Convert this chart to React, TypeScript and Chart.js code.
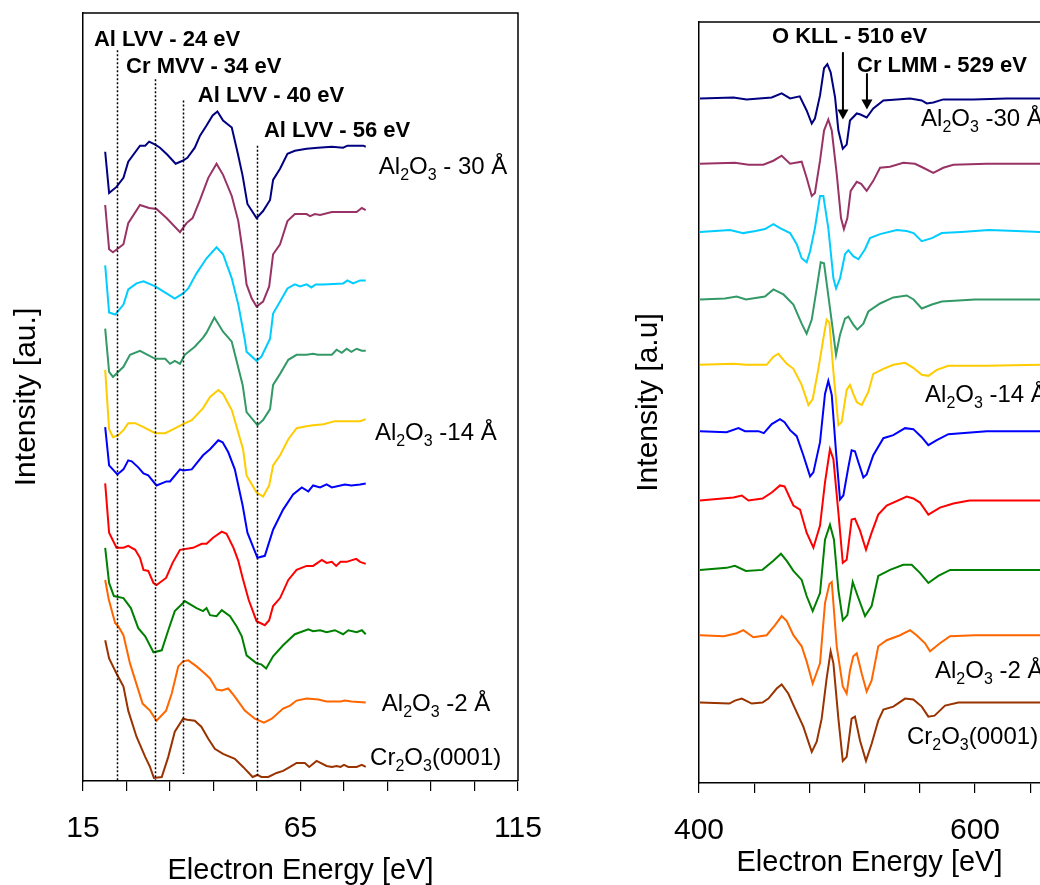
import React, { useEffect, useRef } from "react";
import { Chart, registerables } from "chart.js";

Chart.register(...registerables);

const FONT = "'Liberation Sans', Arial, Helvetica, sans-serif";

// ---------------- Left panel: low-energy region (eV, intensity a.u.) ----------------
const lowNavy = [[20.1,626],[21.0,585],[22.7,591],[24.3,600],[25.4,616],[28.1,632],[29.3,632],[30.2,636],[31.6,633],[32.7,630],[34.4,623],[36.3,614],[37.9,617],[39.0,620],[40.7,630],[41.9,642],[43.4,652],[44.8,662],[45.9,666],[47.2,657],[49.2,650],[50.6,624],[51.7,602],[52.8,574],[54.9,560],[56.4,567],[58.0,578],[58.7,598],[60.3,609],[62.0,624],[63.7,627],[66.4,629],[69.0,630],[72.2,631],[74.8,630],[75.8,632],[79.4,632],[80.0,631]];
const lowPurple = [[20.1,573],[21.0,529],[21.9,526],[24.3,534],[25.4,555],[28.1,573],[30.2,570],[31.9,569],[34.2,560],[37.3,546],[38.8,555],[40.2,560],[41.9,578],[43.8,600],[45.7,614],[47.2,603],[49.2,582],[50.7,557],[51.7,527],[52.6,494],[53.8,480],[54.9,472],[56.4,477],[57.8,492],[58.7,524],[60.3,534],[62.0,557],[63.7,564],[66.4,564],[67.2,562],[68.3,564],[69.5,563],[72.2,566],[77.9,566],[79.1,570],[80.0,568]];
const lowCyan = [[20.1,513],[21.0,466],[22.4,464],[24.3,474],[25.4,489],[27.3,495],[28.9,497],[31.6,492],[34.2,485],[36.1,480],[38.0,485],[39.2,490],[41.1,505],[43.4,520],[45.7,531],[47.2,524],[49.2,500],[50.7,474],[52.2,439],[52.6,427],[54.9,418],[56.0,422],[58.0,440],[58.7,465],[60.3,477],[62.0,490],[63.7,494],[64.9,492],[66.4,494],[67.5,491],[68.5,494],[70.3,494],[74.8,495],[75.8,498],[77.1,495],[78.7,498],[80.0,498]];
const lowSeaGreen = [[20.1,450],[21.0,407],[21.9,402],[24.3,412],[25.8,424],[28.1,428],[31.6,420],[33.9,420],[35.0,415],[36.1,418],[37.3,415],[38.4,424],[40.7,432],[42.6,441],[43.4,446],[45.2,461],[47.2,447],[49.2,437],[51.7,394],[52.6,367],[55.1,354],[56.4,359],[58.0,370],[58.7,394],[60.3,405],[62.2,419],[64.1,424],[66.4,424],[67.9,425],[69.0,424],[70.3,424],[72.2,424],[73.3,429],[74.5,426],[75.6,430],[76.7,427],[77.9,430],[79.1,428],[80.0,428]];
const lowGold = [[20.1,409],[21.0,350],[21.9,342],[23.1,344],[24.3,349],[25.4,356],[27.0,356],[28.9,352],[31.6,346],[33.9,346],[35.8,350],[38.0,355],[40.0,359],[41.1,364],[42.6,371],[44.2,382],[46.1,389],[47.2,385],[49.2,369],[51.8,330],[52.6,304],[54.9,287],[56.4,283],[57.8,294],[58.7,314],[60.3,324],[62.2,340],[64.1,351],[66.4,353],[67.9,354],[70.3,355],[72.9,358],[75.6,358],[78.7,358],[80.0,360]];
const lowBlue = [[20.1,352],[21.0,314],[22.9,305],[24.3,310],[25.4,319],[26.2,318],[27.7,312],[28.9,306],[30.0,304],[31.9,294],[34.2,298],[35.0,298],[37.3,310],[38.0,309],[40.0,310],[42.6,324],[44.2,330],[46.1,339],[47.1,337],[48.4,327],[49.9,310],[51.7,274],[52.8,247],[55.1,222],[56.8,224],[58.7,250],[61.0,270],[63.3,285],[65.3,292],[66.8,288],[67.9,294],[69.5,292],[71.0,295],[72.2,292],[75.2,295],[76.7,294],[78.7,295],[80.0,296]];
const lowRed = [[20.1,296],[21.0,247],[22.7,232],[24.3,232],[25.4,234],[27.0,230],[28.1,222],[28.9,210],[30.0,209],[31.2,197],[31.9,195],[34.1,202],[35.6,217],[37.3,230],[40.3,232],[42.3,236],[43.4,236],[44.9,242],[46.9,248],[48.0,246],[49.6,232],[50.7,219],[51.7,202],[53.1,180],[54.9,159],[56.8,155],[57.8,160],[58.7,174],[60.3,182],[62.2,200],[64.1,210],[66.4,214],[67.9,214],[69.9,220],[71.0,217],[72.2,218],[73.2,214],[74.2,218],[75.6,218],[77.8,221],[78.7,218],[80.0,216]];
const lowGreen = [[20.1,232],[21.0,197],[22.1,184],[24.3,182],[26.0,172],[27.7,152],[29.3,144],[31.2,128],[33.1,130],[34.6,150],[36.1,169],[38.0,177],[38.4,179],[41.1,172],[42.6,169],[43.4,172],[44.2,165],[45.7,164],[46.9,170],[48.8,164],[50.3,154],[51.5,144],[52.6,125],[54.9,117],[56.0,116],[57.1,112],[58.7,124],[61.0,135],[63.7,146],[66.8,151],[67.9,149],[69.5,150],[71.0,148],[72.9,150],[74.8,146],[76.0,150],[77.9,148],[79.1,150],[80.0,146]];
const lowOrange = [[20.1,200],[20.9,181],[21.9,165],[22.4,157],[23.1,154],[24.3,145],[25.8,117],[28.7,77],[30.4,70],[31.9,60],[34.1,70],[35.4,87],[36.9,114],[38.0,119],[39.2,120],[41.1,114],[43.0,107],[44.2,102],[45.7,91],[46.9,90],[48.4,92],[49.9,84],[52.2,70],[54.5,62],[56.6,58],[58.4,62],[61.0,72],[62.6,75],[64.1,80],[66.4,82],[69.1,81],[71.0,79],[74.2,79],[75.2,80],[76.7,79],[80.0,78]];
const lowBrown = [[20.1,140],[21.0,122],[22.7,107],[24.3,94],[25.4,70],[27.3,44],[29.3,24],[30.4,14],[31.3,3],[33.1,4],[34.6,24],[36.1,49],[38.0,62],[39.0,61],[40.7,60],[42.2,54],[43.8,42],[45.3,32],[47.2,27],[49.9,22],[51.8,14],[54.0,4],[55.1,6],[56.0,4],[57.6,4],[59.5,8],[61.0,10],[62.6,14],[64.1,18],[66.0,18],[67.0,14],[68.7,20],[71.0,15],[72.2,14],[73.3,15],[74.2,14],[75.0,16],[76.0,14],[77.9,14],[79.1,16],[80.0,14]];

// ---------------- Right panel: high-energy region ----------------
const highNavy = [[400.7,681],[425,682],[434.5,680],[452.7,682],[459.9,686],[466,681],[473,683],[478,669],[481.7,656],[484,661],[487.7,684],[490.6,711],[493,715],[495.4,707],[498.6,682],[501,649],[504.2,631],[507,635],[509.4,659],[514.3,666],[517,665],[521.5,662],[526.3,671],[533.6,679],[543.3,680],[553,681],[561.4,679],[565,676],[569.8,677],[577,680],[598.8,680],[623,681],[650,681]];
const highPurple = [[400.7,616],[426,617],[436,615],[446.6,615],[453.9,619],[459.9,624],[466,616],[474.4,618],[478,602],[481.7,584],[484,587],[487.7,619],[490.6,649],[493.7,660],[496.2,649],[499.8,606],[502.9,562],[505,551],[507.5,562],[509.9,589],[514.3,598],[517.5,596],[521.5,589],[526.3,599],[531.2,612],[538.4,613],[548,617],[556.5,616],[562.5,612],[569.8,607],[577,612],[584.3,615],[608.5,616],[650,616]];
const highCyan = [[400.7,548],[422.5,550],[432,547],[441,549],[447.8,551],[453.9,556],[458.7,552],[466,547],[470.8,536],[474.4,522],[478,518],[480.5,529],[484,552],[487.7,584],[490.1,584],[493.7,552],[497.4,502],[499.3,492],[502.2,502],[505.8,526],[508.2,530],[511.8,524],[515.5,521],[520.3,531],[523.9,542],[531.2,546],[543.3,550],[550.5,549],[555.5,547],[561.4,539],[568.8,542],[575.9,547],[590,548],[610,550],[630,549],[650,548]];
const highSeaGreen = [[400.7,481],[418.8,482],[427.3,484],[434,481],[447.8,484],[453.9,491],[461.2,486],[468.4,476],[474.4,457],[478,447],[481.7,461],[485.3,492],[488.2,518],[490.6,517],[493,492],[496.2,459],[499.3,426],[502.2,446],[505.8,462],[508.2,464],[511.8,456],[514.7,451],[519.1,457],[522.7,469],[531.2,477],[540.8,483],[550.5,485],[555.5,481],[561.4,472],[568.8,476],[575.9,479],[600,481],[650,481]];
const highGold = [[400.7,416],[425,417],[434,416],[449,416],[453.9,424],[457.5,427],[463.6,417],[468.4,412],[474.4,396],[479.3,376],[482.4,382],[486.5,412],[490.1,442],[492.5,461],[494.5,458],[497.4,409],[501,356],[503.4,359],[507,391],[509.4,396],[511.8,387],[514.3,379],[517.9,376],[522.7,389],[526.3,407],[533.6,412],[540.8,416],[549.3,418],[555.3,413],[561.4,406],[566.2,405],[572.3,411],[580.7,415],[608.5,415],[650,416]];
const highBlue = [[400.7,350],[420,349],[428.6,353],[433.3,350],[443,350],[447,348],[452.7,357],[458.7,362],[462,359],[466,351],[470.8,345],[475.6,326],[480.5,305],[482.9,309],[487.7,339],[491.3,387],[493.7,400],[496.2,386],[499.3,329],[502.2,282],[504.6,286],[508.2,314],[510.6,331],[513,330],[515.5,319],[519.1,304],[521.5,307],[526.3,326],[533.6,343],[540.8,346],[549.3,353],[555.3,352],[561.4,344],[566.2,336],[572.3,341],[580.7,347],[608.5,350],[650,350]];
const highRed = [[400.7,281],[425,284],[431,286],[435.8,281],[446,283],[452.7,289],[458.7,296],[462,295],[468.4,276],[473.2,272],[478,249],[482.9,234],[487.7,256],[491.3,299],[494.9,332],[497.4,322],[501,269],[504.2,219],[507,222],[510.6,262],[513,263],[516.7,251],[521,232],[525.1,249],[529.9,267],[536,276],[550.5,285],[555.3,283],[560.1,279],[566.2,267],[574.6,274],[584.3,278],[596,281],[650,281]];
const highGreen = [[400.7,212],[420,214],[426,216],[434,211],[446,212],[453.9,221],[459.4,228],[463.6,221],[468.4,211],[474.4,202],[478,186],[482.4,171],[487.7,189],[491.3,242],[494.9,257],[497.8,242],[501,192],[504.2,162],[507.5,167],[511.4,200],[514.7,187],[520.3,166],[525.1,176],[529.9,206],[538.4,212],[548,217],[554.1,217],[560.1,209],[566.2,199],[573.4,206],[582,212],[650,212]];
const highOrange = [[400.7,147],[418,146],[427.3,149],[432.1,152],[439.4,145],[449,147],[455.1,157],[459.9,166],[463.6,161],[468.4,147],[474.4,136],[478,121],[482.4,99],[487.7,119],[491.3,179],[494.5,198],[496.2,200],[499.8,136],[504.2,96],[507,89],[509.4,112],[511.8,126],[514.3,129],[517.9,109],[521.5,91],[525.1,102],[529.9,136],[536,142],[545.7,147],[552.9,152],[557.7,147],[563.8,139],[567.4,131],[574.6,139],[581.9,146],[600,147],[650,147]];
const highBrown = [[400.7,80],[422,79],[426,82],[431,84],[438.2,79],[446,80],[450.3,84],[456.3,94],[459.9,98],[464.7,89],[469.6,74],[475.6,56],[481.7,31],[485.3,41],[488.9,64],[492.5,104],[495.4,131],[497.4,119],[501,64],[504.2,22],[507,26],[510.6,64],[513,66],[516.7,42],[521,22],[525.1,39],[529.9,62],[533.6,73],[540.8,76],[549.3,84],[555.3,83],[561.4,76],[566.2,66],[570.7,67],[578.3,77],[588,80],[650,80]];

const seriesColors = ["#000080", "#993366", "#00CCFF", "#339966", "#FFCC00", "#0000FF", "#FF0000", "#008000", "#FF6600", "#993300"];
const lowSeries = [lowNavy, lowPurple, lowCyan, lowSeaGreen, lowGold, lowBlue, lowRed, lowGreen, lowOrange, lowBrown];
const highSeries = [highNavy, highPurple, highCyan, highSeaGreen, highGold, highBlue, highRed, highGreen, highOrange, highBrown];

// axis ticks
const lowTicks = [15, 25, 35, 45, 55, 65, 75, 85, 95, 105, 115];
const lowTickLabels = [15, 65, 115];
const highTicks = [400, 440, 480, 520, 560, 600, 640];
const highTickLabels = [400, 600];

// annotations: left panel dotted marker lines [energy, top, bottom]
const lowMarkerE = [22.8, 31.6, 37.9, 54.9];
const lowMarkerTop = [727, 698, 677, 632];
const lowMarkerBottom = [0, 1, 7, 5];
const lowPeakText = ["Al LVV - 24 eV", "Cr MVV - 34 eV", "Al LVV - 40 eV", "Al LVV - 56 eV"];
const lowPeakPos = [[17.5, 731], [24.9, 704], [41.4, 675], [56.6, 641]];
const lowSampleText = ["Al_2O_3 - 30 Å", "Al_2O_3 -14 Å", "Al_2O_3 -2 Å", "Cr_2O_3(0001)"];
const lowSamplePos = [[83.0, 604], [82.1, 339], [83.7, 70], [81.0, 16]];

const highPeakText = ["O KLL - 510 eV", "Cr LMM - 529 eV"];
const highPeakPos = [[452.9, 736], [514.5, 707]];
const highArrowE = [504.3, 521.7];
const highArrowFrom = [727, 706];
const highArrowTo = [660, 670];
const highSampleText = ["Al_2O_3 -30 Å", "Al_2O_3 -14 Å", "Al_2O_3 -2 Å", "Cr_2O_3(0001)"];
const highSamplePos = [[560.9, 654], [563.8, 379], [571.0, 104], [550.7, 39]];

function drawChem(ctx: CanvasRenderingContext2D, text: string, x: number, y: number, size: number) {
  const runs: { t: string; sub: boolean }[] = [];
  let buf = "";
  for (let i = 0; i < text.length; i++) {
    if (text[i] === "_") {
      if (buf) runs.push({ t: buf, sub: false });
      buf = "";
      runs.push({ t: text[i + 1], sub: true });
      i++;
    } else buf += text[i];
  }
  if (buf) runs.push({ t: buf, sub: false });
  let cx = x;
  ctx.textAlign = "left";
  ctx.textBaseline = "alphabetic";
  for (const r of runs) {
    const s = r.sub ? Math.round(size * 0.68) : size;
    ctx.font = `${s}px ${FONT}`;
    ctx.fillText(r.t, cx, r.sub ? y + size * 0.25 : y);
    cx += ctx.measureText(r.t).width;
  }
}

function makeLowDecor() {
  return {
    id: "lowDecor",
    afterDatasetsDraw(chart: any) {
      const { ctx, chartArea, scales } = chart;
      const x = scales.x, y = scales.y;
      ctx.save();
      ctx.strokeStyle = "#000";
      ctx.lineWidth = 1.5;
      ctx.beginPath();
      ctx.moveTo(chartArea.left, chartArea.top);
      ctx.lineTo(chartArea.right, chartArea.top);
      ctx.lineTo(chartArea.right, chartArea.bottom);
      ctx.stroke();
      ctx.setLineDash([2, 2]);
      ctx.lineWidth = 1.5;
      lowMarkerE.forEach((e, i) => {
        const px = Math.round(x.getPixelForValue(e)) + 0.5;
        ctx.beginPath();
        ctx.moveTo(px, y.getPixelForValue(lowMarkerTop[i]));
        ctx.lineTo(px, y.getPixelForValue(lowMarkerBottom[i]));
        ctx.stroke();
      });
      ctx.setLineDash([]);
      ctx.fillStyle = "#000";
      ctx.font = `bold 22px ${FONT}`;
      ctx.textAlign = "left";
      ctx.textBaseline = "alphabetic";
      lowPeakText.forEach((t, i) => {
        ctx.fillText(t, x.getPixelForValue(lowPeakPos[i][0]), y.getPixelForValue(lowPeakPos[i][1]));
      });
      lowSampleText.forEach((t, i) => {
        drawChem(ctx, t, x.getPixelForValue(lowSamplePos[i][0]), y.getPixelForValue(lowSamplePos[i][1]), 24);
      });
      ctx.restore();
    },
  };
}

function makeHighDecor() {
  return {
    id: "highDecor",
    afterDatasetsDraw(chart: any) {
      const { ctx, chartArea, scales } = chart;
      const x = scales.x, y = scales.y;
      ctx.save();
      ctx.strokeStyle = "#000";
      ctx.lineWidth = 1.5;
      ctx.beginPath();
      ctx.moveTo(chartArea.left, chartArea.top);
      ctx.lineTo(chart.width, chartArea.top);
      ctx.stroke();
      ctx.fillStyle = "#000";
      ctx.font = `bold 22px ${FONT}`;
      ctx.textAlign = "left";
      ctx.textBaseline = "alphabetic";
      highPeakText.forEach((t, i) => {
        ctx.fillText(t, x.getPixelForValue(highPeakPos[i][0]), y.getPixelForValue(highPeakPos[i][1]));
      });
      ctx.lineWidth = 2;
      highArrowE.forEach((e, i) => {
        const px = x.getPixelForValue(e);
        const y1 = y.getPixelForValue(highArrowFrom[i]);
        const y2 = y.getPixelForValue(highArrowTo[i]);
        ctx.beginPath();
        ctx.moveTo(px, y1);
        ctx.lineTo(px, y2 - 8);
        ctx.stroke();
        ctx.beginPath();
        ctx.moveTo(px - 5.5, y2 - 10);
        ctx.lineTo(px + 5.5, y2 - 10);
        ctx.lineTo(px, y2);
        ctx.closePath();
        ctx.fill();
      });
      highSampleText.forEach((t, i) => {
        drawChem(ctx, t, x.getPixelForValue(highSamplePos[i][0]), y.getPixelForValue(highSamplePos[i][1]), 24);
      });
      ctx.restore();
    },
  };
}

function buildConfig(opts: {
  series: number[][][];
  xMin: number; xMax: number; yMax: number;
  ticks: number[]; tickLabels: number[];
  tickPad: number;
  yTitle: string; yTitlePad: { top: number; bottom: number };
  xTitlePad: { top: number; bottom: number };
  padding: { left: number; right: number; top: number; bottom: number };
  lineWidth: number;
  plugin: any;
}): any {
  return {
    type: "line",
    data: {
      datasets: opts.series.map((s, i) => ({
        data: s.map((p) => ({ x: p[0], y: p[1] })),
        borderColor: seriesColors[i],
        backgroundColor: seriesColors[i],
        borderWidth: opts.lineWidth,
        pointRadius: 0,
        tension: 0,
        fill: false,
      })),
    },
    options: {
      responsive: false,
      animation: false,
      events: [],
      layout: { padding: opts.padding },
      plugins: { legend: { display: false }, tooltip: { enabled: false }, title: { display: false } },
      scales: {
        x: {
          type: "linear",
          min: opts.xMin,
          max: opts.xMax,
          afterBuildTicks: (scale: any) => {
            scale.ticks = opts.ticks.map((v) => ({ value: v }));
          },
          ticks: {
            autoSkip: false,
            maxRotation: 0,
            padding: opts.tickPad,
            color: "#000",
            font: { family: FONT, size: 30, lineHeight: 1.2 },
            callback: (v: any) => (opts.tickLabels.includes(Number(v)) ? String(v) : ""),
          },
          grid: { display: true, drawOnChartArea: false, drawTicks: true, tickLength: 10, color: "#000", lineWidth: 1.2 },
          border: { display: true, color: "#000", width: 1.5 },
          title: {
            display: true,
            text: "Electron Energy [eV]",
            color: "#000",
            font: { family: FONT, size: 29, lineHeight: 1 },
            padding: opts.xTitlePad,
          },
        },
        y: {
          type: "linear",
          min: 0,
          max: opts.yMax,
          ticks: { display: false },
          grid: { display: false, drawTicks: false },
          border: { display: true, color: "#000", width: 1.5 },
          title: {
            display: true,
            text: opts.yTitle,
            color: "#000",
            font: { family: FONT, size: 30, lineHeight: 1.2 },
            padding: opts.yTitlePad,
          },
        },
      },
    },
    plugins: [opts.plugin],
  };
}

export default function App() {
  const leftRef = useRef<HTMLCanvasElement | null>(null);
  const rightRef = useRef<HTMLCanvasElement | null>(null);

  useEffect(() => {
    const left = new Chart(
      leftRef.current as HTMLCanvasElement,
      buildConfig({
        series: lowSeries,
        xMin: 15, xMax: 115, yMax: 764,
        ticks: lowTicks, tickLabels: lowTickLabels,
        tickPad: 20,
        yTitle: "Intensity [au.]",
        yTitlePad: { top: 9, bottom: 38 },
        xTitlePad: { top: -11, bottom: 0 },
        padding: { left: 0, right: 52, top: 13, bottom: 0 },
        lineWidth: 2,
        plugin: makeLowDecor(),
      })
    );
    const right = new Chart(
      rightRef.current as HTMLCanvasElement,
      buildConfig({
        series: highSeries,
        xMin: 400, xMax: 647.1, yMax: 757,
        ticks: highTicks, tickLabels: highTickLabels,
        tickPad: 20,
        yTitle: "Intensity [a.u]",
        yTitlePad: { top: 61, bottom: 32 },
        xTitlePad: { top: -20.5, bottom: 7.5 },
        padding: { left: 0, right: 90, top: 22, bottom: 0 },
        lineWidth: 2,
        plugin: makeHighDecor(),
      })
    );
    return () => {
      left.destroy();
      right.destroy();
    };
  }, []);

  return (
    <div style={{ position: "absolute", left: 0, top: 0, width: 1040, height: 885, overflow: "hidden", background: "#fff" }}>
      <canvas ref={leftRef} width={570} height={885} style={{ position: "absolute", left: 0, top: 0 }} />
      <canvas ref={rightRef} width={560} height={885} style={{ position: "absolute", left: 570, top: 0 }} />
    </div>
  );
}
